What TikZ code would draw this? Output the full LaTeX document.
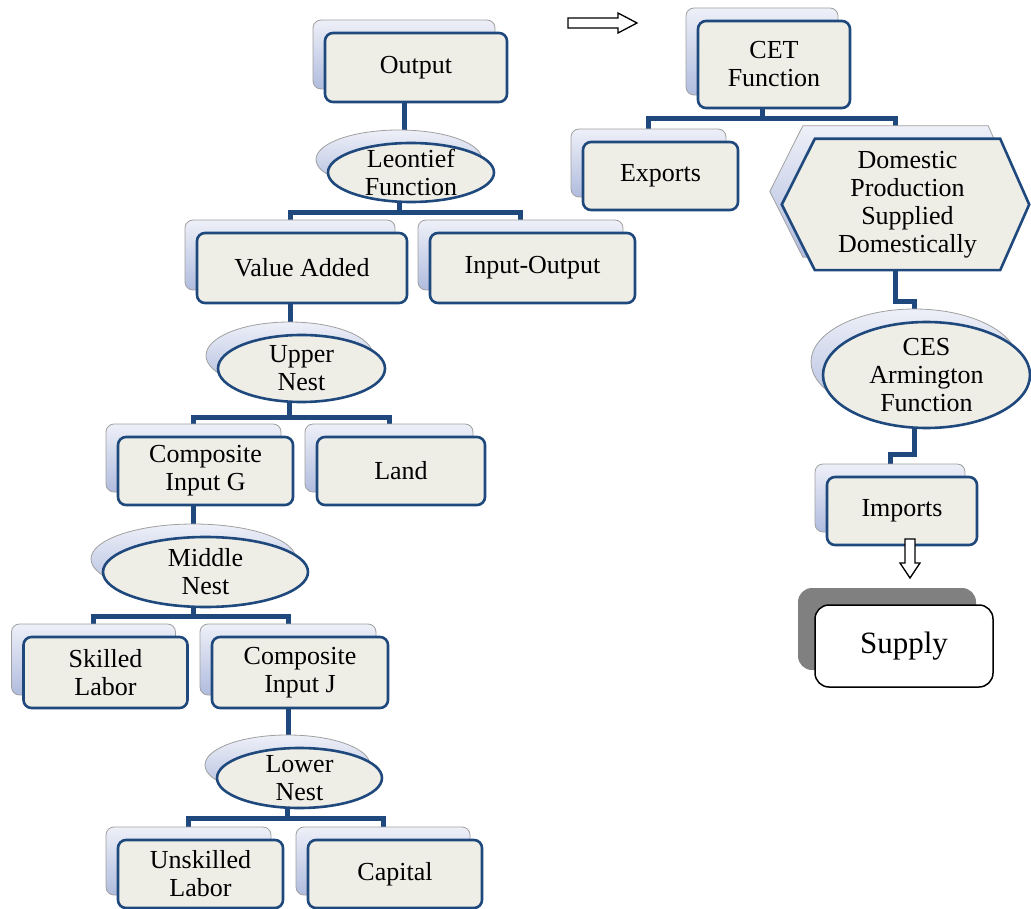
\documentclass[tikz,border=0pt]{standalone}
\usepackage{fontspec}
\setmainfont{Liberation Serif}
\usetikzlibrary{shapes.geometric,calc}
\pgfdeclarelayer{bg}\pgfdeclarelayer{hex}
\pgfsetlayers{bg,hex,main}
\definecolor{frontfill}{RGB}{238,237,230}
\definecolor{frontdraw}{RGB}{31,73,125}
\definecolor{backtop}{RGB}{238,240,248}
\definecolor{backbot}{RGB}{176,188,222}
\definecolor{backdraw}{RGB}{160,160,160}
\definecolor{shadowgrey}{RGB}{128,128,128}
\tikzset{
 lbl/.style={font=\fontsize{26}{28}\selectfont, align=center, inner sep=0pt},
 frontbox/.style={lbl, rectangle, rounded corners=8pt, fill=frontfill, draw=frontdraw, line width=2.6pt},
 backshade/.style={top color=backtop, bottom color=backbot, draw=backdraw, line width=0.8pt},
 backbox/.style={backshade, rectangle, rounded corners=8pt, inner sep=0pt},
 frontell/.style={ellipse, fill=frontfill, draw=frontdraw, line width=2.6pt, inner sep=0pt},
 backell/.style={backshade, ellipse, inner sep=0pt},
 conn/.style={draw=frontdraw, line width=5pt},
 hollow/.style={draw=black, fill=white, line width=1.3pt, line join=miter},
}
\newcommand\twobox[6]{%
 \node[backbox, minimum width=#4pt, minimum height=#5pt] (#1B) at ({#2-12},{#3-13}) {};
 \node[frontbox, minimum width=#4pt, minimum height=#5pt] (#1F) at (#2,#3) {#6};}
\newcommand\twoell[6]{%
 \node[backell, minimum width=#4pt, minimum height=#5pt] (#1B) at ({#2-12},{#3-13}) {};
 \node[frontell, minimum width=#4pt, minimum height=#5pt] (#1F) at (#2,#3) {};
 \node[lbl] (#1T) at (#1F.center) {#6};}
\newcommand\hexpath[2]{([shift={(#1,#2)}]domF.north west) -- ([shift={(#1,#2)}]domF.north east) -- ([shift={(#1+29,#2)}]domF.east) -- ([shift={(#1,#2)}]domF.south east) -- ([shift={(#1,#2)}]domF.south west) -- ([shift={(#1-33,#2)}]domF.west) -- cycle}
\begin{document}
\begin{tikzpicture}[x=1pt,y=-1pt]
\useasboundingbox (0,0) rectangle (1031,909);
% left tree
\twobox{out}{416}{67.5}{182}{69}{Output}
\twoell{leo}{411}{172.5}{166}{59}{Leontief\\Function}
\twobox{va}{302}{268}{210}{70}{Value Added}
\twobox{io}{532.5}{268}{205}{70}{Input-Output}
\twoell{up}{301.5}{368.5}{167}{67}{Upper\\Nest}
\twobox{cg}{205.5}{471}{175}{68}{Composite\\Input G}
\twobox{land}{401}{471}{168}{68}{Land}
\twoell{mid}{205.5}{572}{205}{70}{Middle\\Nest}
\twobox{sk}{105.5}{672.5}{164}{71}{Skilled\\Labor}
\twobox{cj}{300}{672.5}{176}{71}{Composite\\Input J}
\twoell{low}{299.5}{778}{165}{60}{Lower\\Nest}
\twobox{un}{200.5}{874}{165}{68}{Unskilled\\Labor}
\twobox{cap}{395}{874}{174}{68}{Capital}
% right tree
\twobox{cet}{774}{64.5}{152}{87}{CET\\Function}
\twobox{exp}{660.5}{176}{155}{68}{Exports}
\node[lbl, minimum width=185pt, minimum height=131pt] (domF) at (907.5,204.5) {Domestic\\Production\\Supplied\\Domestically};
\coordinate (domBn) at ([shift={(-12,-13)}]domF.north);
\coordinate (domBs) at ([shift={(-12,-13)}]domF.south);
\begin{pgfonlayer}{hex}
\path[backshade] \hexpath{-12}{-13};
\path[fill=frontfill, draw=frontdraw, line width=2.6pt] \hexpath{0}{0};
\end{pgfonlayer}
\twoell{ces}{926.5}{375}{207}{106}{CES\\Armington\\Function}
\twobox{im}{902}{511}{150}{68}{Imports}
% supply
\node[rectangle, rounded corners=14pt, fill=shadowgrey, minimum width=178pt, minimum height=82pt] (supB) at (887,629) {};
\node[rectangle, rounded corners=14pt, fill=white, draw=black, line width=1.5pt, minimum width=178pt, minimum height=82pt, font=\fontsize{31}{34}\selectfont, inner sep=0pt] (supF) at (904,646) {Supply};
% hollow arrows
\draw[hollow] (568,18) -- (618,18) -- (618,13) -- (637,23) -- (618,33) -- (618,28) -- (568,28) -- cycle;
\draw[hollow] (905,539) -- (915,539) -- (915,563) -- (920,563) -- (910,578) -- (900,563) -- (905,563) -- cycle;
% bus levels
\coordinate (y0) at (0,119);
\coordinate (y1) at (0,213);
\coordinate (y2) at (0,417);
\coordinate (y3) at (0,616);
\coordinate (y4) at (0,818);
\coordinate (yD) at (0,302);
\coordinate (yC) at (0,454);
\begin{pgfonlayer}{bg}
\draw[conn] (outB.south) -- (outB.south |- leoB.north);
\draw[conn] (leoB.south) -- (leoB.south |- y1);
\draw[conn] (vaB.north) |- (y1 -| ioB.north) -- (ioB.north);
\draw[conn] (vaB.south) -- (vaB.south |- upB.north);
\draw[conn] (upB.south) -- (upB.south |- y2);
\draw[conn] (cgB.north) |- (y2 -| landB.north) -- (landB.north);
\draw[conn] (cgB.south) -- (cgB.south |- midB.north);
\draw[conn] (midB.south) -- (midB.south |- y3);
\draw[conn] (skB.north) |- (y3 -| cjB.north) -- (cjB.north);
\draw[conn] (cjB.south) -- (cjB.south |- lowB.north);
\draw[conn] (lowB.south) -- (lowB.south |- y4);
\draw[conn] (unB.north) |- (y4 -| capB.north) -- (capB.north);
\draw[conn] (cetB.south) -- (cetB.south |- y0);
\draw[conn] (expB.north) |- (y0 -| domBn) -- (domBn);
\draw[conn] (domBs) |- (yD -| cesB.north) -- (cesB.north);
\draw[conn] (cesB.south) |- (yC -| imB.north) -- (imB.north);
\end{pgfonlayer}
\end{tikzpicture}
\end{document}
